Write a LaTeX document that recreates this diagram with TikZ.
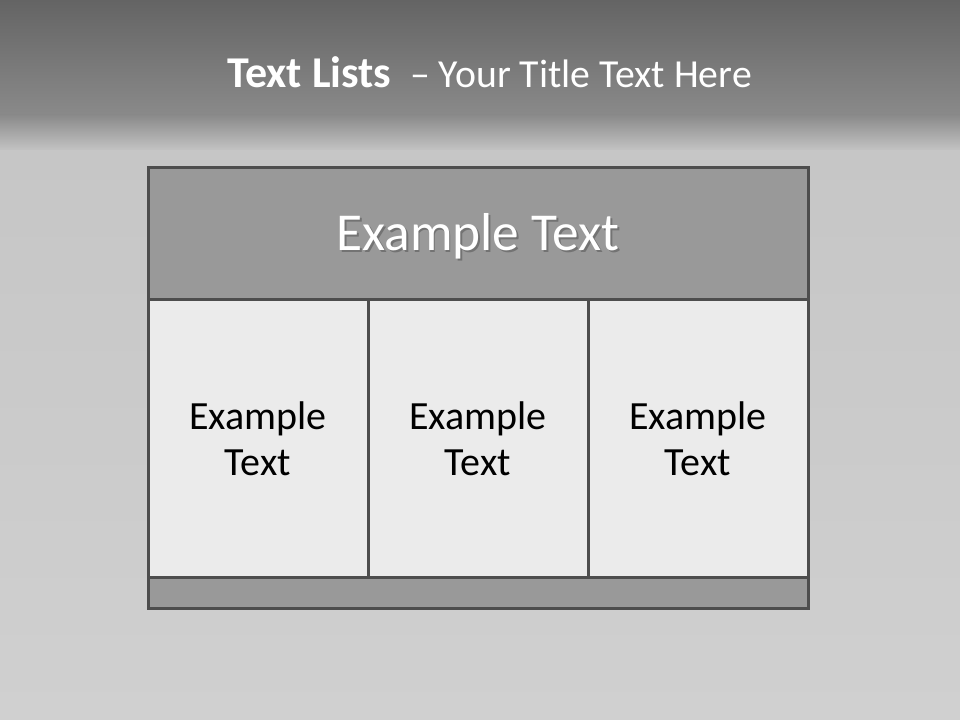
\documentclass[tikz,border=0pt]{standalone}
\usepackage{fontspec}
\setmainfont{Carlito}
\definecolor{bgtop}{HTML}{646464}
\definecolor{bgmid}{HTML}{8A8A8A}
\definecolor{bglite}{HTML}{C6C6C6}
\definecolor{bglow}{HTML}{D0D0D0}
\definecolor{edge}{HTML}{4D4D4D}
\definecolor{hdrfill}{HTML}{999999}
\definecolor{cellfill}{HTML}{EBEBEB}
\begin{document}
\begin{tikzpicture}[x=0.75pt,y=-0.75pt,
  box/.style={draw=edge,line width=2.25pt,inner sep=0pt,outer sep=0pt,anchor=center},
  hdrbox/.style={box,fill=hdrfill,minimum width=495pt,minimum height=99pt},
  cellbox/.style={box,fill=cellfill,minimum width=165pt,minimum height=207.75pt,
    align=center,font=\fontsize{30}{34.5}\selectfont,text=black},
  footbox/.style={box,fill=hdrfill,minimum width=495pt,minimum height=23.25pt},
  hdrtext/.style={font=\fontsize{40}{46}\selectfont,inner sep=0pt}
]
\useasboundingbox (0,0) rectangle (960,720);
\shade[top color=bgtop,bottom color=bgmid] (0,0) rectangle (960,116);
\shade[top color=bgmid,bottom color=bglite] (0,115) rectangle (960,152);
\shade[top color=bglite,bottom color=bglow] (0,151) rectangle (960,720);
\node[inner sep=0pt,text=white,anchor=base west] (title) at (227,88)
  {{\fontsize{33}{37}\selectfont\bfseries Text Lists}\hspace{14pt}{\fontsize{29.8}{35}\selectfont –\ Your Title Text Here}};
\node[hdrbox] (hdr) at (478,234) {};
\node[cellbox] (c1) at (258,438.5) {Example\\Text};
\node[cellbox] (c2) at (478,438.5) {Example\\Text};
\node[cellbox] (c3) at (698,438.5) {Example\\Text};
\node[footbox] (foot) at (478,592.5) {};
\node[hdrtext,text=black!55] (hdrsh) at (479.8,237.8) {Example Text};
\node[hdrtext,text=white] (hdrtx) at (478,236) {Example Text};
\end{tikzpicture}
\end{document}
